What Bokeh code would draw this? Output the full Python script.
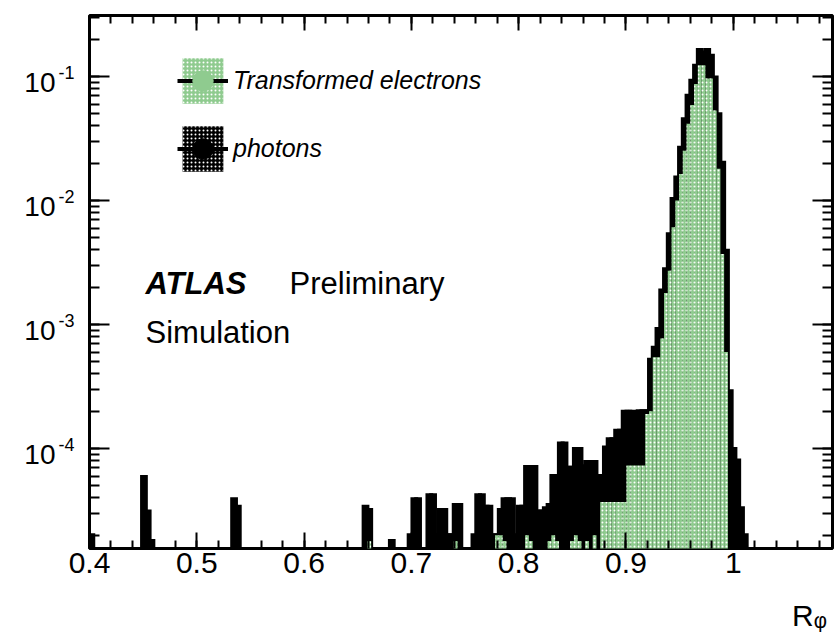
import numpy as np
from bokeh.plotting import figure
from bokeh.models import (Range1d, FixedTicker, LogTicker, LinearAxis, LogAxis,
                          CustomJSTickFormatter, Label, Legend, LegendItem, ColumnDataSource)
from bokeh.embed import file_html
from bokeh.resources import INLINE

# ---------------- data ----------------
bin_start = 0.40
bin_width = 0.0035

photon_bin = [0, 14, 15, 16, 38, 39, 73, 74, 80, 85, 86, 87, 90, 91, 92, 93, 94, 95, 96, 97, 98,
              102, 103, 104, 105, 106, 107, 108, 109, 110, 111, 112, 113, 114, 115, 116, 117, 118,
              119, 120, 121, 122, 123, 124, 125, 126, 127, 128, 129, 130, 131, 132, 133, 134, 135,
              136, 137, 138, 139, 140, 141, 142, 143, 144, 145, 146, 147, 148, 149, 150, 151, 152,
              153, 154, 155, 156, 157, 158, 159, 160, 161, 162, 163, 164, 165, 166, 167, 168, 169,
              170, 171, 172, 173, 174]
photon_val = [2.0e-5, 5.9e-5, 3.1e-5, 1.8e-5, 3.9e-5, 3.4e-5, 3.4e-5, 3.2e-5, 1.8e-5, 2.0e-5,
              3.9e-5, 3.9e-5, 4.2e-5, 4.2e-5, 2.0e-5, 3.2e-5, 3.2e-5, 2.0e-5, 2.0e-5, 3.5e-5, 3.5e-5,
              2.0e-5, 4.2e-5, 4.2e-5, 3.4e-5, 3.4e-5, 2.0e-5, 2.0e-5, 3.2e-5, 3.9e-5, 3.9e-5, 3.9e-5,
              2.0e-5, 3.4e-5, 3.4e-5, 7.1e-5, 7.1e-5, 7.1e-5, 3.1e-5, 3.1e-5, 3.3e-5, 3.5e-5, 6.0e-5,
              6.0e-5, 1.1e-4, 1.1e-4, 7.0e-5, 7.0e-5, 9.9e-5, 9.9e-5, 7.2e-5, 7.8e-5, 7.8e-5, 7.8e-5,
              6.0e-5, 6.0e-5, 1.02e-4, 1.19e-4, 1.19e-4, 1.39e-4, 1.39e-4, 1.98e-4, 1.98e-4, 1.98e-4,
              1.78e-4, 2.0e-4, 2.0e-4, 2.0e-4, 5.2e-4, 6.5e-4, 9.2e-4, 1.88e-3, 2.79e-3, 5.35e-3,
              1.03e-2, 1.53e-2, 2.67e-2, 4.53e-2, 6.99e-2, 9.23e-2, 0.122, 0.164, 0.156, 0.164,
              0.147, 0.098, 0.0497, 0.0202, 3.93e-3, 2.9e-4, 9.9e-5, 8.0e-5, 3.3e-5, 2.0e-5]

electron_bin = [74, 97, 108, 109, 110, 116, 117, 122, 123, 124, 128, 129, 130, 132, 134,
                136, 137, 138, 139, 140, 141, 142, 143, 144, 145, 146, 147, 148, 149, 150, 151,
                152, 153, 154, 155, 156, 157, 158, 159, 160, 161, 162, 163, 164, 165, 166, 167,
                168, 169]
electron_val = [1.8e-5, 1.8e-5, 2.0e-5, 2.0e-5, 1.8e-5, 2.0e-5, 1.8e-5, 1.8e-5, 2.0e-5, 1.8e-5,
                1.8e-5, 2.0e-5, 1.8e-5, 1.8e-5, 2.0e-5,
                3.7e-5, 3.7e-5, 3.7e-5, 3.7e-5, 3.7e-5, 3.7e-5, 3.7e-5, 7.3e-5, 7.3e-5, 7.3e-5,
                7.3e-5, 7.3e-5, 1.9e-4, 2.0e-4, 5.45e-4, 5.45e-4, 7.7e-4, 1.8e-3, 2.72e-3, 6.1e-3,
                1.0e-2, 1.64e-2, 2.52e-2, 4.17e-2, 5.9e-2, 8.7e-2, 0.123, 0.123, 0.0966, 0.0966,
                0.0532, 0.018, 3.7e-3, 6.0e-4]

x_major = [0.4, 0.5, 0.6, 0.7, 0.8, 0.9, 1.0]
y_major = [1e-4, 1e-3, 1e-2, 1e-1]
x_title = "Rᵩ"
x_title_pos = 1.0711
legend_labels = ["Transformed electrons", "photons"]

FONT = "Liberation Sans"
GREEN = "#8fcb8f"
Y0, Y1 = 1.563e-5, 0.3105
PX_PER_DECADE = 124.0

# ---------------- figure ----------------
p = figure(width=838, height=636, x_range=Range1d(0.4, 1.0925), y_range=Range1d(Y0, Y1),
           y_axis_type="log", output_backend="svg", toolbar_location=None,
           min_border_left=89, min_border_right=6, min_border_top=15, min_border_bottom=88)
p.grid.visible = False
p.outline_line_color = "black"
p.outline_line_width = 3
p.background_fill_color = "white"
p.border_fill_color = "white"

LOW = 1e-7
pb = np.array(photon_bin)
psrc = ColumnDataSource(dict(left=bin_start + pb * bin_width, right=bin_start + (pb + 1) * bin_width,
                             top=photon_val, bottom=[LOW] * len(photon_val)))
p.quad(left="left", right="right", top="top", bottom="bottom", source=psrc,
       fill_color="black", line_color="black", line_width=4, line_join="miter")

eb = np.array(electron_bin)
esrc = ColumnDataSource(dict(left=bin_start + eb * bin_width, right=bin_start + (eb + 1) * bin_width,
                             top=electron_val, bottom=[LOW] * len(electron_val)))
HATCH = dict(hatch_pattern="dot", hatch_color="white", hatch_scale=4, hatch_weight=3)
p.quad(left="left", right="right", top="top", bottom="bottom", source=esrc,
       fill_color=GREEN, line_color=None, **HATCH)

# ---------------- axes ----------------
x_minor = [round(v, 2) for v in np.arange(0.42, 1.09, 0.02)]
xa = p.xaxis[0]
xa.ticker = FixedTicker(ticks=x_major, minor_ticks=x_minor)
xa.formatter = CustomJSTickFormatter(code="return Math.abs(tick-1)<1e-9 ? '1' : tick.toFixed(1);")
xa.major_tick_in = 16
xa.major_tick_out = 0
xa.minor_tick_in = 8
xa.minor_tick_out = 0
xa.major_tick_line_width = 2
xa.minor_tick_line_width = 2
xa.axis_line_color = None
xa.major_label_text_font = FONT
xa.major_label_text_font_size = "30px"
xa.major_label_text_color = "black"
xa.major_label_standoff = 4

blank = CustomJSTickFormatter(code="return '';")
ya = p.yaxis[0]
ya.ticker = LogTicker(num_minor_ticks=10)
ya.formatter = blank
ya.major_tick_in = 20
ya.major_tick_out = 0
ya.minor_tick_in = 10
ya.minor_tick_out = 0
ya.major_tick_line_width = 2
ya.minor_tick_line_width = 2
ya.axis_line_color = None
ya.major_label_standoff = 0
ya.major_label_text_font_size = "1px"

top = LinearAxis(ticker=FixedTicker(ticks=x_major, minor_ticks=x_minor), formatter=blank,
                 major_tick_in=15, major_tick_out=0, minor_tick_in=8, minor_tick_out=0,
                 major_tick_line_width=2, minor_tick_line_width=2, axis_line_color=None,
                 major_label_standoff=0, major_label_text_font_size="1px")
p.add_layout(top, "above")
right = LogAxis(ticker=LogTicker(num_minor_ticks=10), formatter=blank,
                major_tick_in=20, major_tick_out=0, minor_tick_in=10, minor_tick_out=0,
                major_tick_line_width=2, minor_tick_line_width=2, axis_line_color=None,
                major_label_standoff=0, major_label_text_font_size="1px")
p.add_layout(right, "right")

# y tick labels drawn as "10" and a raised exponent (two extra label-only axes)
up = 10 ** (4.5 / PX_PER_DECADE)      # exponent sits a little above the tick
down = 10 ** (-5.5 / PX_PER_DECADE)   # "10" sits a little below the tick
exp_axis = LogAxis(ticker=FixedTicker(ticks=[v * up for v in y_major], minor_ticks=[]),
                   formatter=CustomJSTickFormatter(code="return String(Math.floor(Math.log10(tick)));"),
                   major_tick_line_color=None, minor_tick_line_color=None, axis_line_color=None,
                   major_label_standoff=9, major_label_text_font=FONT,
                   major_label_text_font_size="18px", major_label_text_color="black")
p.add_layout(exp_axis, "left")
ten_axis = LogAxis(ticker=FixedTicker(ticks=[v * down for v in y_major], minor_ticks=[]),
                   formatter=CustomJSTickFormatter(code="return '10';"),
                   major_tick_line_color=None, minor_tick_line_color=None, axis_line_color=None,
                   major_label_standoff=-6, major_label_text_font=FONT,
                   major_label_text_font_size="28px", major_label_text_color="black")
p.add_layout(ten_axis, "left")

# x-axis title R_phi at the lower right, as a label-only axis
title_axis = LinearAxis(ticker=FixedTicker(ticks=[x_title_pos], minor_ticks=[]),
                        formatter=CustomJSTickFormatter(code="return '%s';" % x_title),
                        major_tick_line_color=None, minor_tick_line_color=None,
                        axis_line_color=None, major_label_standoff=17,
                        major_label_text_font=FONT, major_label_text_font_size="30px",
                        major_label_text_color="black")
p.add_layout(title_axis, "below")


def slabel(x, y, text, size, style="normal"):
    p.add_layout(Label(x=x, y=y, x_units="screen", y_units="screen", text=text, text_font=FONT,
                       text_font_size=size, text_font_style=style,
                       text_baseline="alphabetic", text_color="black"))


# ATLAS text
slabel(56, 265, "ATLAS", "31px", style="bold italic")
slabel(200, 265, "Preliminary", "31px")
slabel(56, 216, "Simulation", "31px")

# ---------------- legend ----------------
def dummy():
    return ColumnDataSource(dict(left=[-10.0], right=[-9.9], top=[1e-3], bottom=[1e-4],
                                 x=[-10.0], y=[1e-3]))

e_box = p.quad(left="left", right="right", top="top", bottom="bottom", source=dummy(),
               fill_color=GREEN, line_color=None, **HATCH)
e_line = p.line(x="x", y="y", source=dummy(), line_color="black", line_width=4, line_dash="18 15")
e_mark = p.scatter(x="x", y="y", source=dummy(), marker="circle", size=14, fill_color=GREEN,
                   line_color=GREEN)
g_box = p.quad(left="left", right="right", top="top", bottom="bottom", source=dummy(),
               fill_color="black", line_color=None, **HATCH)
g_line = p.line(x="x", y="y", source=dummy(), line_color="black", line_width=4)
g_mark = p.scatter(x="x", y="y", source=dummy(), marker="circle", size=18, fill_color="black",
                   line_color="black")

legend = Legend(items=[LegendItem(label=legend_labels[0], renderers=[e_box, e_line, e_mark]),
                       LegendItem(label=legend_labels[1], renderers=[g_box, g_line, g_mark])],
                location=(88, 371), glyph_width=51, glyph_height=57, spacing=11,
                label_standoff=5, padding=0, margin=0, border_line_alpha=0,
                background_fill_alpha=0, label_text_font=FONT, label_text_font_size="25px",
                label_text_font_style="italic", label_text_color="black")
p.add_layout(legend, "center")

open("out.html", "w").write(file_html(p, INLINE))
